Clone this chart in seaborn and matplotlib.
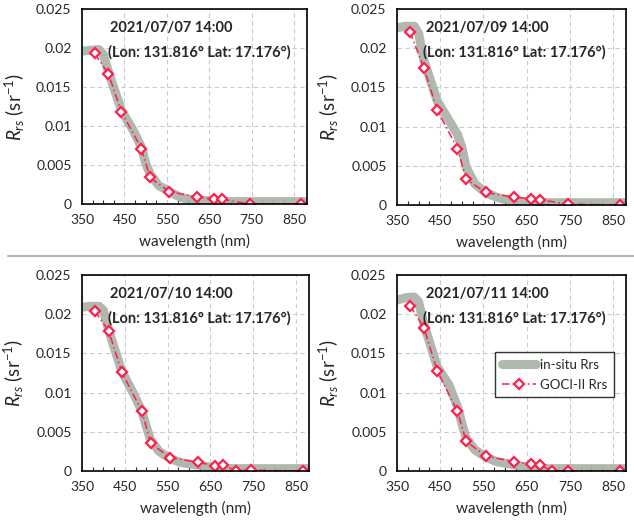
import matplotlib
matplotlib.use('Agg')
import matplotlib.pyplot as plt
import seaborn as sns
import pandas as pd
from matplotlib.ticker import FixedLocator, MultipleLocator
from matplotlib.lines import Line2D

# GOCI-II band centres (nm)
goci_wl = [380, 412, 443, 490, 510, 555, 620, 660, 680, 709, 745, 865]
# GOCI-II Rrs for each day (None = no retrieval)
goci_0707 = [0.0193, 0.0167, 0.0118, 0.0071, 0.0034, 0.0016, 0.0009, 0.0006, 0.0006, None, 0.0000, 0.0000]
goci_0709 = [0.0221, 0.0175, 0.0121, 0.0072, 0.0033, 0.0016, 0.0010, 0.0008, 0.0007, None, 0.0001, 0.0000]
goci_0710 = [0.0204, 0.0179, 0.0126, 0.0076, 0.0036, 0.0017, 0.0011, 0.0007, 0.0008, 0.0000, 0.0001, 0.0000]
goci_0711 = [0.0211, 0.0183, 0.0128, 0.0076, 0.0038, 0.0019, 0.0012, 0.0009, 0.0008, 0.0000, 0.0000, 0.0000]

# in-situ hyperspectral Rrs
insitu_wl = [350, 370, 390, 400, 412, 443, 470, 490, 500, 510, 530, 555, 580, 600, 650, 700, 750, 800, 850, 900]
insitu_0707 = [0.0196, 0.0197, 0.0198, 0.0192, 0.0170, 0.0120, 0.0095, 0.0073, 0.0052, 0.0039, 0.0024, 0.0016,
               0.0009, 0.0006, 0.0004, 0.0003, 0.0003, 0.0003, 0.0003, 0.0003]
insitu_0709 = [0.0226, 0.0228, 0.0228, 0.0219, 0.0185, 0.0133, 0.0108, 0.0090, 0.0074, 0.0048, 0.0027, 0.0016,
               0.0010, 0.0007, 0.0004, 0.0003, 0.0003, 0.0003, 0.0003, 0.0003]
insitu_0710 = [0.0209, 0.0210, 0.0210, 0.0205, 0.0180, 0.0127, 0.0099, 0.0076, 0.0057, 0.0040, 0.0025, 0.0016,
               0.0011, 0.0009, 0.0005, 0.0003, 0.0003, 0.0003, 0.0003, 0.0003]
insitu_0711 = [0.0218, 0.0221, 0.0222, 0.0216, 0.0188, 0.0133, 0.0110, 0.0082, 0.0061, 0.0042, 0.0027, 0.0018,
               0.0012, 0.0010, 0.0005, 0.0003, 0.0003, 0.0003, 0.0003, 0.0003]

x_ticks = [350, 450, 550, 650, 750, 850]
y_ticks = [0, 0.005, 0.01, 0.015, 0.02, 0.025]
y_tick_labels = ['0', '0.005', '0.01', '0.015', '0.02', '0.025']

dates = ['2021/07/07 14:00', '2021/07/09 14:00', '2021/07/10 14:00', '2021/07/11 14:00']
location = '(Lon: 131.816\u00b0 Lat: 17.176\u00b0)'

INSITU_COLOR = '#a9b1a8'
GOCI_COLOR = '#ff1f4b'


def draw_panel(ax, insitu, goci, date, show_legend):
    df_in = pd.DataFrame({'wl': insitu_wl, 'rrs': insitu})
    df_go = pd.DataFrame({'wl': goci_wl, 'rrs': goci}).dropna()
    sns.lineplot(data=df_in, x='wl', y='rrs', ax=ax, color=INSITU_COLOR, lw=6.5,
                 alpha=0.9, label='in-situ Rrs', solid_capstyle='round')
    sns.lineplot(data=df_go, x='wl', y='rrs', ax=ax, color=GOCI_COLOR, lw=1.1,
                 linestyle=(0, (5, 2, 1, 2)), marker='D', markersize=5.5,
                 markerfacecolor='white', markeredgecolor=GOCI_COLOR,
                 markeredgewidth=1.6, label='GOCI-II Rrs')
    ax.set_xlim(350, 880)
    ax.set_ylim(0, 0.025)
    ax.xaxis.set_major_locator(FixedLocator(x_ticks))
    ax.xaxis.set_minor_locator(MultipleLocator(25))
    ax.set_yticks(y_ticks)
    ax.set_yticklabels(y_tick_labels)
    ax.grid(True, which='major', color='#cccccc', linestyle=(0, (4, 3)), lw=0.8)
    ax.tick_params(which='major', direction='inout', length=5, width=1, labelsize=10, pad=5, color='black')
    ax.tick_params(which='minor', axis='x', direction='in', length=3, width=0.8, bottom=True)
    for s in ax.spines.values():
        s.set_visible(True)
        s.set_color('black')
        s.set_linewidth(1.2)
    ax.set_xlabel('wavelength (nm)', fontsize=11)
    ax.set_ylabel(r'$R_{rs}$ (sr$^{-1}$)', fontsize=13.5)
    ax.xaxis.set_label_coords(0.5, -0.155)
    ax.yaxis.set_label_coords(-0.245, 0.5)
    ax.text(0.125, 0.905, date, transform=ax.transAxes, fontsize=10.5, fontweight='bold', va='center', ha='left')
    ax.text(0.115, 0.78, location, transform=ax.transAxes, fontsize=10.5, fontweight='bold', va='center', ha='left')
    if show_legend:
        leg = ax.legend(loc='upper left', bbox_to_anchor=(0.40, 0.64), fontsize=9.5, frameon=True,
                        fancybox=False, edgecolor='black', handlelength=2.6, borderpad=0.5,
                        labelspacing=0.6, handletextpad=0.3)
        leg.get_frame().set_linewidth(1.0)
    else:
        ax.get_legend().remove()


def main():
    sns.set_theme(style='white')
    plt.rcParams['font.family'] = ['Lato', 'DejaVu Sans']
    plt.rcParams['mathtext.fontset'] = 'custom'
    plt.rcParams['mathtext.rm'] = 'Lato'
    plt.rcParams['mathtext.it'] = 'Lato:italic'

    W, H = 634, 520
    fig = plt.figure(figsize=(W / 100, H / 100), dpi=100)
    fig.patch.set_facecolor('white')

    # axes boxes in pixel units: left, top, right, bottom
    boxes = [(82, 9, 307, 204), (397, 9, 626, 205), (82, 275, 309, 471), (397, 275, 626, 471)]
    insitus = [insitu_0707, insitu_0709, insitu_0710, insitu_0711]
    gocis = [goci_0707, goci_0709, goci_0710, goci_0711]

    for i, (l, t, r, b) in enumerate(boxes):
        ax = fig.add_axes([l / W, 1 - b / H, (r - l) / W, (b - t) / H])
        draw_panel(ax, insitus[i], gocis[i], dates[i], show_legend=(i == 3))

    # thin grey divider between the two rows
    fig.add_artist(Line2D([8 / W, 1], [1 - 256 / H, 1 - 256 / H], transform=fig.transFigure,
                          color='#b5b5b5', lw=1.5))

    fig.savefig('out.png', dpi=100)


if __name__ == "__main__":
    main()
